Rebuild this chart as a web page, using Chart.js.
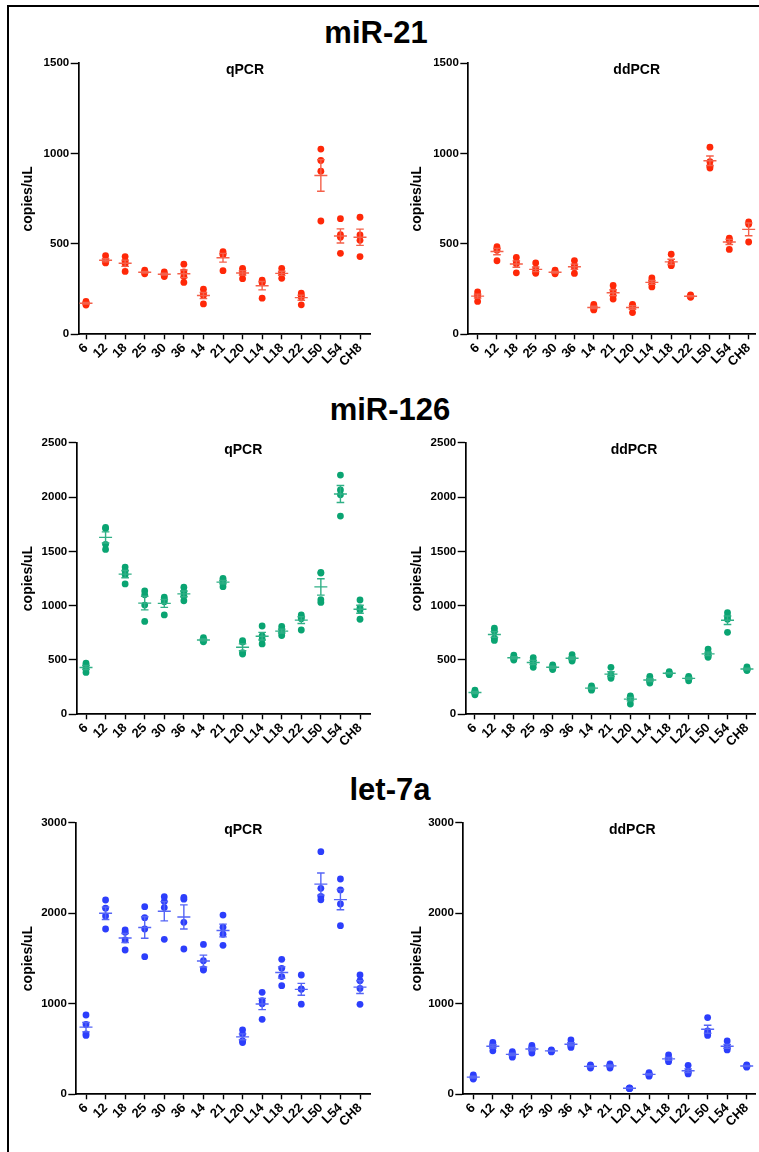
<!DOCTYPE html>
<html><head><meta charset="utf-8">
<script src="https://cdn.jsdelivr.net/npm/chart.js@4"></script>
<style>
body{margin:0;background:#fff;width:759px;height:1152px;position:relative;overflow:hidden;font-family:"Liberation Sans",Arial,sans-serif;color:#000;}
.cv{position:absolute;}
.title{position:absolute;font-weight:bold;font-size:31px;line-height:31px;white-space:nowrap;transform:translateX(-50%);}
.sub{position:absolute;font-weight:bold;font-size:14px;line-height:14px;white-space:nowrap;transform:translateX(-50%);}
.frameL{position:absolute;left:7px;top:5px;width:2px;height:1147px;background:#000;}
.frameT{position:absolute;left:7px;top:5px;width:752px;height:2px;background:#000;}
</style></head><body>
<div class="frameL"></div><div class="frameT"></div>
<div class="title" style="left:376px;top:17px">miR-21</div>
<div class="title" style="left:390px;top:394px">miR-126</div>
<div class="title" style="left:390px;top:774px">let-7a</div>
<div id="wrap"></div>
<script>
const categories = ['6','12','18','25','30','36','14','21','L20','L14','L18','L22','L50','L54','CH8'];

const mir21_qpcr = [[182,175,168,162],[435,410,400,395],[430,405,390,348],[355,345,340,335],[345,335,330,320],[388,345,320,287],[250,225,215,168],[458,445,440,352],[365,350,335,308],[300,290,285,200],[365,340,335,310],[228,215,205,163],[1025,962,903,627],[640,552,537,448],[648,550,520,430]];
const mir21_ddpcr = [[235,218,210,182],[485,475,465,407],[425,400,390,340],[395,360,345,338],[355,345,340,335],[408,380,370,337],[165,155,140,135],[270,240,215,195],[165,160,150,120],[312,295,280,262],[443,395,385,380],[218,212,208,205],[1036,955,930,920],[532,525,518,470],[622,609,511]];
const mir126_qpcr = [[470,450,420,385],[1720,1710,1565,1518],[1355,1320,1285,1200],[1135,1100,1005,855],[1078,1055,1035,915],[1170,1130,1090,1045],[705,690,675,668],[1252,1230,1210,1175],[678,665,568,555],[813,722,692,648],[808,780,750,725],[915,895,880,776],[1305,1300,1055,1030],[2202,2065,2020,1825],[1052,980,960,875]];
const mir126_ddpcr = [[222,205,195,180],[792,765,700,680],[545,525,510,500],[522,490,465,432],[455,440,425,412],[548,520,505,490],[262,245,235,222],[432,365,350,332],[170,155,140,95],[350,320,305,288],[392,380,375,365],[350,335,330,308],[600,560,540,525],[935,900,875,755],[437,420,410,403]];
const let7a_qpcr = [[876,772,668,650],[2146,2055,1970,1826],[1815,1790,1705,1594],[2072,1951,1826,1520],[2183,2130,2062,1712],[2175,2155,1900,1605],[1656,1475,1385,1372],[1980,1845,1768,1645],[712,665,590,572],[1126,1035,1000,828],[1491,1391,1300,1200],[1318,1165,1160,995],[2680,2275,2185,2148],[2378,2258,2102,1863],[1318,1255,1170,994]];
const let7a_ddpcr = [[215,195,180,168],[572,545,525,480],[472,450,430,410],[540,515,490,455],[490,482,478,468],[600,560,535,518],[325,315,305,290],[335,320,310,290],[72,68,65,62],[240,225,215,200],[435,395,375,360],[320,255,240,225],[847,700,675,650],[590,530,510,490],[325,315,310,300]];

const yTicks_mir21 = [0,500,1000,1500];
const yTicks_mir126 = [0,500,1000,1500,2000,2500];
const yTicks_let7a = [0,1000,2000,3000];

const panelTitles = ['qPCR','ddPCR'];
const yTitle = 'copies/uL';

// layout / style (not data)
const palette = [
  {dot:'#ff2808', bar:'#f4604a'},
  {dot:'#0aa472', bar:'#30b086'},
  {dot:'#2c3efc', bar:'#5565f6'}
];
const rows = [
  {top:0, h:380, plotTop:63.3, plotBottom:334.3, ticks:yTicks_mir21, data:[mir21_qpcr, mir21_ddpcr]},
  {top:380, h:380, plotTop:442.7, plotBottom:714.3, ticks:yTicks_mir126, data:[mir126_qpcr, mir126_ddpcr]},
  {top:760, h:392, plotTop:822.7, plotBottom:1094.3, ticks:yTicks_let7a, data:[let7a_qpcr, let7a_ddpcr]}
];
const cols = [
  {left:0, w:380, axisX:[78.7,76.7,76.3], first:[86,86,86], last:[360,360,360], end:[370,370,370], titleX:[28.3,28.3,28.3], subX:[245,243.3,243.3]},
  {left:380, w:379, axisX:[468.3,465.7,463.3], first:[477.7,475,473.3], last:[751,748.3,746.7], end:[758,757,755], titleX:[36.7,36.7,37.3], subX:[636.7,634,632.3]}
];

const semPlugin = {
  id:'sem',
  afterDatasetsDraw(chart, args, opts){
    const {ctx} = chart; const x = chart.scales.x, y = chart.scales.y;
    ctx.save(); ctx.strokeStyle = opts.color; ctx.lineWidth = 1.4;
    opts.groups.forEach((vals,i)=>{
      const n = vals.length, m = vals.reduce((a,b)=>a+b,0)/n;
      const sd = Math.sqrt(vals.reduce((a,b)=>a+(b-m)*(b-m),0)/(n-1));
      const se = sd/Math.sqrt(n);
      const px = x.getPixelForValue(i), pm = y.getPixelForValue(m);
      const pt = y.getPixelForValue(m+se), pb = y.getPixelForValue(m-se);
      ctx.beginPath();
      ctx.moveTo(px-6.5,pm); ctx.lineTo(px+6.5,pm);
      ctx.moveTo(px,pt); ctx.lineTo(px,pb);
      ctx.moveTo(px-3.8,pt); ctx.lineTo(px+3.8,pt);
      ctx.moveTo(px-3.8,pb); ctx.lineTo(px+3.8,pb);
      ctx.stroke();
    });
    ctx.restore();
  }
};

const wrap = document.getElementById('wrap');
rows.forEach((r,ri)=>{
  cols.forEach((c,ci)=>{
    const groups = r.data[ci];
    const cvs = document.createElement('canvas');
    cvs.className='cv'; cvs.width=c.w; cvs.height=r.h;
    cvs.style.left=c.left+'px'; cvs.style.top=r.top+'px';
    cvs.style.width=c.w+'px'; cvs.style.height=r.h+'px';
    wrap.appendChild(cvs);
    const sub = document.createElement('div');
    sub.className='sub'; sub.textContent=panelTitles[ci];
    sub.style.left=c.subX[ri]+'px'; sub.style.top=(r.plotTop-1.2)+'px';
    wrap.appendChild(sub);

    const unit = (c.last[ri]-c.first[ri])/(categories.length-1);
    const xmin = -(c.first[ri]-c.axisX[ri])/unit;
    const xmax = (categories.length-1) + (c.end[ri]-c.last[ri])/unit;
    const pts = [];
    groups.forEach((vals,i)=>vals.forEach(v=>pts.push({x:i,y:v})));
    const yAxisW = c.axisX[ri]-c.left;
    const xAxisH = r.top + r.h - r.plotBottom;

    new Chart(cvs, {
      type:'scatter',
      data:{datasets:[{data:pts, backgroundColor:palette[ri].dot, borderWidth:0, pointRadius:3.4, pointHoverRadius:3.4}]},
      plugins:[semPlugin],
      options:{
        responsive:false, animation:false, devicePixelRatio:1,
        layout:{padding:{left:0, right:c.left+c.w-c.end[ri], top:r.plotTop-r.top, bottom:0}},
        plugins:{legend:{display:false}, tooltip:{enabled:false}, sem:{groups:groups, color:palette[ri].bar}},
        scales:{
          x:{type:'linear', min:xmin, max:xmax,
             afterBuildTicks:s=>{s.ticks = categories.map((cat,i)=>({value:i}));},
             afterFit:s=>{s.height = xAxisH; s.paddingLeft=0; s.paddingRight=0;},
             ticks:{autoSkip:false, minRotation:45, maxRotation:45, padding:1, color:'#000',
                    font:{family:'"Liberation Sans", Arial', weight:'bold', size:13},
                    callback:(v)=>categories[v]},
             grid:{drawOnChartArea:false, drawTicks:true, tickLength:5, tickColor:'#000', tickWidth:1.4},
             border:{display:true, color:'#000', width:1.7}},
          y:{type:'linear', min:r.ticks[0], max:r.ticks[r.ticks.length-1],
             afterBuildTicks:s=>{s.ticks = r.ticks.map(v=>({value:v}));},
             afterFit:s=>{s.width = yAxisW; s.paddingTop=0; s.paddingBottom=0;},
             ticks:{padding:1.5, color:'#000', font:{family:'"Liberation Sans", Arial', weight:'bold', size:11.5},
                    callback:(v)=>String(v)},
             grid:{drawOnChartArea:false, drawTicks:true, tickLength:8, tickColor:'#000', tickWidth:1.4},
             border:{display:true, color:'#000', width:1.7},
             title:{display:true, text:yTitle, color:'#000', font:{family:'"Liberation Sans", Arial', weight:'bold', size:14},
                    padding:{top:c.titleX[ri]-8.4, bottom:0}}}
        }
      }
    });
  });
});
</script>
</body></html>
